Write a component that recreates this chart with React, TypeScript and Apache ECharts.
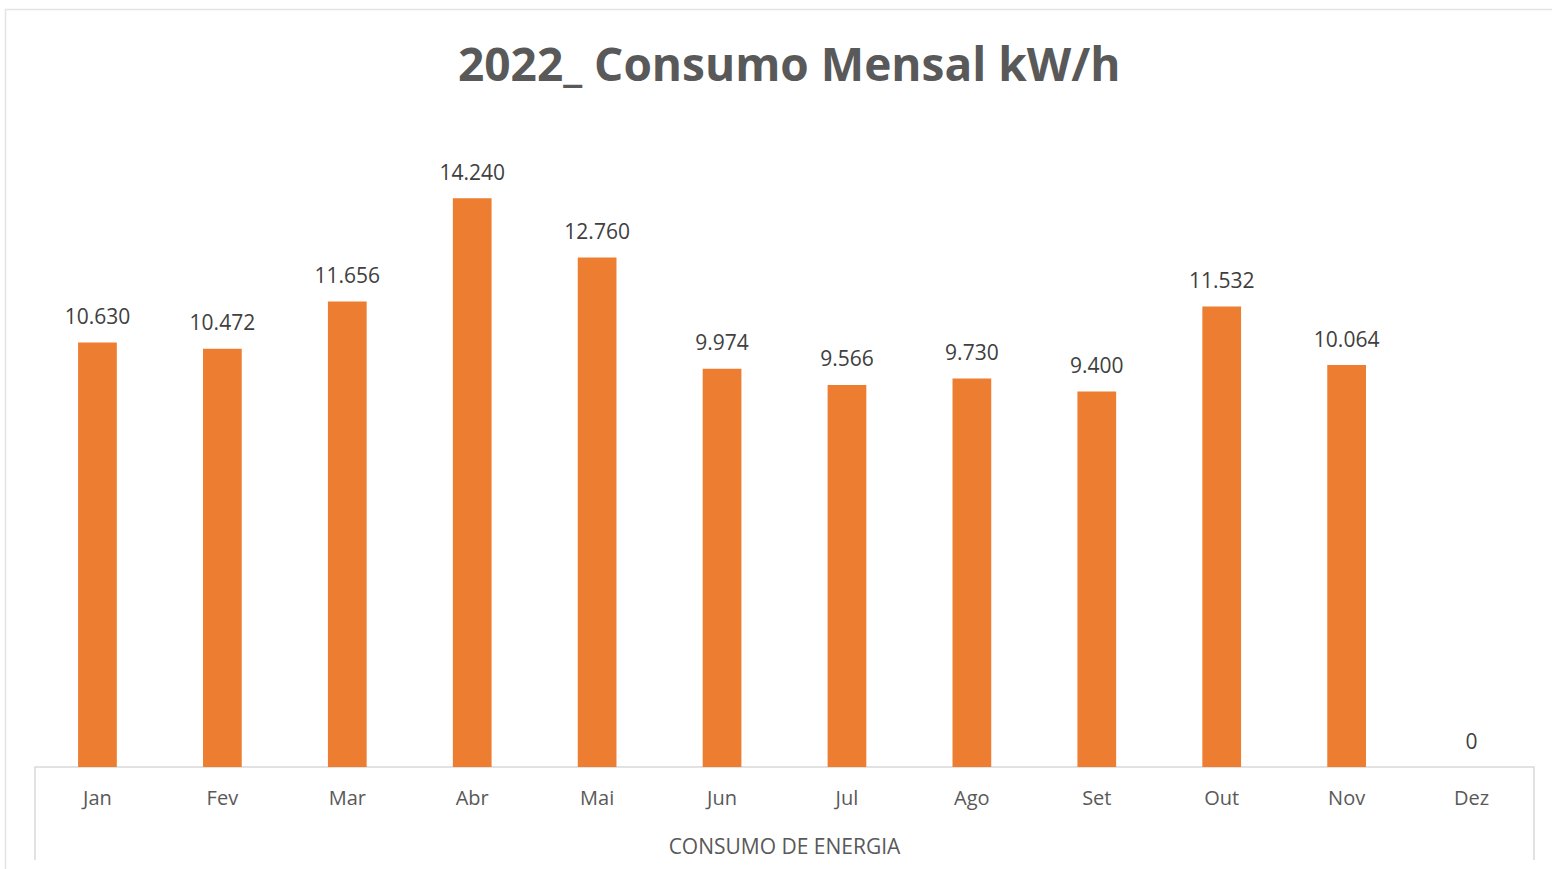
import React, { useEffect, useRef } from "react";
import * as echarts from "echarts";

const months = ["Jan", "Fev", "Mar", "Abr", "Mai", "Jun", "Jul", "Ago", "Set", "Out", "Nov", "Dez"];
const consumo = [10630, 10472, 11656, 14240, 12760, 9974, 9566, 9730, 9400, 11532, 10064, 0];
const titleText = "2022_ Consumo Mensal kW/h";
const groupName = "CONSUMO DE ENERGIA";

const fmt = (v: number) => String(v).replace(/\B(?=(\d{3})+(?!\d))/g, ".");

export default function App() {
  const ref = useRef<HTMLDivElement>(null);
  useEffect(() => {
    if (!ref.current) return;
    const chart = echarts.init(ref.current, null, { renderer: "svg" });
    const font = "'Open Sans', 'Noto Sans', sans-serif";
    chart.setOption({
      animation: false,
      backgroundColor: "#ffffff",
      title: {
        text: titleText,
        left: 453,
        top: 35,
        textStyle: { fontFamily: font, fontSize: 46, fontWeight: "bold", color: "#595959" },
      },
      grid: { left: 35, right: 18, top: 128, bottom: 102, containLabel: false },
      xAxis: {
        type: "category",
        data: months,
        name: groupName,
        nameLocation: "middle",
        nameGap: 68,
        nameTextStyle: { fontFamily: font, fontSize: 21, color: "#595959" },
        axisLine: { lineStyle: { color: "#d9d9d9", width: 1.5 } },
        axisTick: { show: false },
        axisLabel: { fontFamily: font, fontSize: 20, color: "#595959", margin: 20 },
      },
      yAxis: {
        type: "value",
        min: 0,
        max: 16000,
        show: false,
        splitLine: { show: false },
      },
      series: [
        {
          type: "bar",
          data: consumo,
          barWidth: "31%",
          itemStyle: { color: "#ED7D31" },
          label: {
            show: true,
            position: "top",
            distance: 16,
            fontFamily: font,
            fontSize: 21,
            color: "#404040",
            formatter: (p: any) => fmt(p.value),
          },
        },
      ],
      graphic: [
        {
          type: "rect",
          shape: { x: 5.5, y: 9.5, width: 1700, height: 1000 },
          style: { fill: "none", stroke: "#e3e3e3", lineWidth: 1.5 },
          silent: true,
        },
        {
          type: "line",
          shape: { x1: 35, y1: 767, x2: 35, y2: 860 },
          style: { stroke: "#d9d9d9", lineWidth: 1.5 },
        },
        {
          type: "line",
          shape: { x1: 1534, y1: 767, x2: 1534, y2: 860 },
          style: { stroke: "#d9d9d9", lineWidth: 1.5 },
        },
      ],
    });
    return () => chart.dispose();
  }, []);
  return (
    <div
      ref={ref}
      style={{ position: "fixed", left: 0, top: 0, width: 1552, height: 869 }}
    />
  );
}
